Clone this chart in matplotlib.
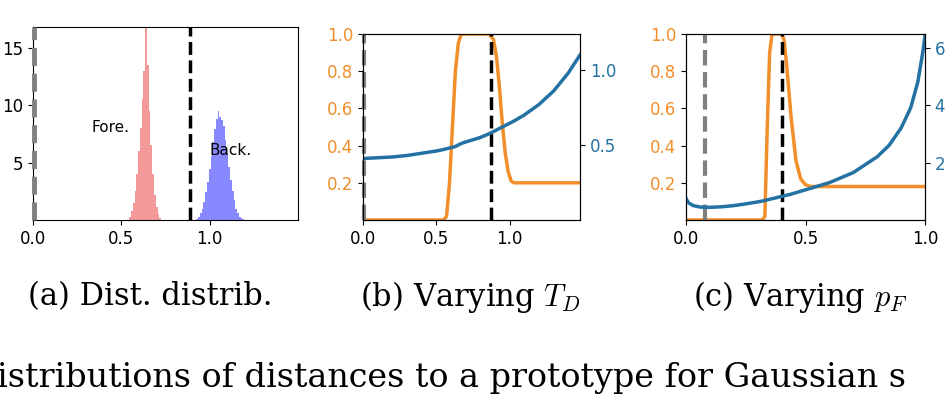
import numpy as np
import matplotlib
matplotlib.use("Agg")
import matplotlib.pyplot as plt

plt.rcParams['mathtext.fontset'] = 'cm'

ORANGE = '#f28e2b'
BLUE = '#2471a3'

# (a) histogramas
fore_x = [0.55, 0.56, 0.57, 0.58, 0.59, 0.60, 0.61, 0.62, 0.63, 0.64,
          0.65, 0.66, 0.67, 0.68, 0.69, 0.70, 0.71, 0.72]
fore_h = [0.3, 0.8, 1.5, 2.5, 4.0, 6.0, 8.0, 10.5, 13.0, 16.8,
          13.5, 9.5, 6.5, 4.0, 2.2, 1.1, 0.5, 0.2]
back_x = [0.93, 0.94, 0.95, 0.96, 0.97, 0.98, 0.99, 1.00, 1.01, 1.02,
          1.03, 1.04, 1.05, 1.06, 1.07, 1.08, 1.09, 1.10, 1.11, 1.12,
          1.13, 1.14, 1.15, 1.16, 1.17, 1.18, 1.19, 1.20]
back_h = [0.1, 0.3, 0.6, 1.0, 1.6, 2.4, 3.3, 4.4, 5.6, 6.8,
          7.9, 8.8, 9.5, 9.0, 8.7, 8.2, 7.0, 5.8, 4.6, 3.5,
          2.5, 1.7, 1.0, 0.6, 0.3, 0.15, 0.08, 0.03]

# (b) variando T_D
b_x = [0.0, 0.1, 0.2, 0.3, 0.4, 0.5, 0.55, 0.57, 0.59, 0.61, 0.63, 0.65, 0.67,
       0.70, 0.80, 0.86, 0.89, 0.91, 0.93, 0.95, 0.97, 0.99, 1.01, 1.03,
       1.1, 1.2, 1.3, 1.4, 1.48]
b_acc = [0.0, 0.0, 0.0, 0.0, 0.0, 0.0, 0.0, 0.02, 0.2, 0.5, 0.8, 0.95, 1.0,
         1.0, 1.0, 1.0, 0.97, 0.88, 0.72, 0.52, 0.36, 0.26, 0.21, 0.2,
         0.2, 0.2, 0.2, 0.2, 0.2]
b_blue = [0.41, 0.415, 0.42, 0.43, 0.445, 0.46, 0.47, 0.475, 0.48, 0.485, 0.49, 0.50, 0.51,
          0.52, 0.55, 0.575, 0.59, 0.60, 0.61, 0.62, 0.63, 0.64, 0.65, 0.66,
          0.70, 0.77, 0.86, 0.98, 1.10]

# (c) variando p_F
c_x = [0.0, 0.01, 0.03, 0.06, 0.1, 0.15, 0.2, 0.25, 0.3, 0.32, 0.33, 0.34,
       0.35, 0.36, 0.40, 0.41, 0.42, 0.44, 0.46, 0.48, 0.50, 0.52, 0.6,
       0.7, 0.8, 0.85, 0.9, 0.94, 0.97, 0.99, 1.0]
c_acc = [0.0, 0.0, 0.0, 0.0, 0.0, 0.0, 0.0, 0.0, 0.0, 0.0, 0.02, 0.5,
         0.9, 1.0, 1.0, 0.97, 0.85, 0.55, 0.32, 0.22, 0.19, 0.18, 0.18,
         0.18, 0.18, 0.18, 0.18, 0.18, 0.18, 0.18, 0.18]
c_blue = [0.75, 0.6, 0.5, 0.45, 0.44, 0.46, 0.5, 0.56, 0.63, 0.66, 0.68, 0.70,
          0.72, 0.74, 0.82, 0.84, 0.86, 0.9, 0.95, 1.0, 1.05, 1.1, 1.3,
          1.65, 2.2, 2.6, 3.2, 3.9, 4.8, 5.8, 6.4]

fig = plt.figure(figsize=(9.5, 4.04), dpi=100)
W, H = 950, 404

def ax_at(x0, y0, x1, y1):
    return fig.add_axes([x0 / W, 1 - y1 / H, (x1 - x0) / W, (y1 - y0) / H])

# painel a
ax = ax_at(33, 27, 298, 220)
ax.bar(fore_x, fore_h, width=0.01, color='#f08080', alpha=0.8)
ax.bar(back_x, back_h, width=0.01, color='#6a6aff', alpha=0.8)
ax.axvline(0.005, color='gray', ls='--', lw=3.5, zorder=5, clip_on=False)
ax.axvline(0.89, color='k', ls='--', lw=2.5)
ax.set_xlim(0, 1.5)
ax.set_ylim(0, 16.8)
ax.set_xticks([0.0, 0.5, 1.0])
ax.set_yticks([5, 10, 15])
ax.text(0.44, 7.7, 'Fore.', fontsize=11, ha='center')
ax.text(1.12, 5.7, 'Back.', fontsize=11, ha='center')
ax.tick_params(labelsize=12)

def panel(box, x, acc, blue, xlim, ylim2, yt2, gray, black):
    ax = ax_at(*box)
    ax.plot(x, acc, color=ORANGE, lw=2.5)
    ax.axvline(gray, color='gray', ls='--', lw=3, zorder=5, clip_on=False)
    ax.axvline(black, color='k', ls='--', lw=2.5)
    ax.set_xlim(*xlim)
    ax.set_ylim(0, 1)
    ax.set_xticks([0.0, 0.5, 1.0])
    ax.set_yticks([0.2, 0.4, 0.6, 0.8, 1.0])
    ax.tick_params(labelsize=12)
    ax.tick_params(axis='y', labelcolor=ORANGE)
    ax2 = ax.twinx()
    ax2.plot(x, blue, color=BLUE, lw=2.5)
    ax2.set_ylim(*ylim2)
    ax2.set_yticks(yt2)
    ax2.tick_params(labelsize=12, labelcolor=BLUE)
    return ax

panel((363, 34, 580, 220), b_x, b_acc, b_blue, (0, 1.48), (0, 1.24), [0.5, 1.0], 0.005, 0.87)
panel((686, 34, 925, 220), c_x, c_acc, c_blue, (0, 1.0), (0, 6.47), [2, 4, 6], 0.08, 0.40)

cap = dict(fontsize=22, family='DejaVu Serif', ha='center', va='center')
fig.text(150 / W, 1 - 297 / H, '(a) Dist. distrib.', **cap)
fig.text(470 / W, 1 - 297 / H, r'(b) Varying $T_D$', **cap)
fig.text(800 / W, 1 - 297 / H, r'(c) Varying $p_F$', **cap)
fig.text(-3 / W, 1 - 378 / H, 'istributions of distances to a prototype for Gaussian s',
         fontsize=24, family='DejaVu Serif', ha='left', va='center')

fig.savefig('out.png', dpi=100)
